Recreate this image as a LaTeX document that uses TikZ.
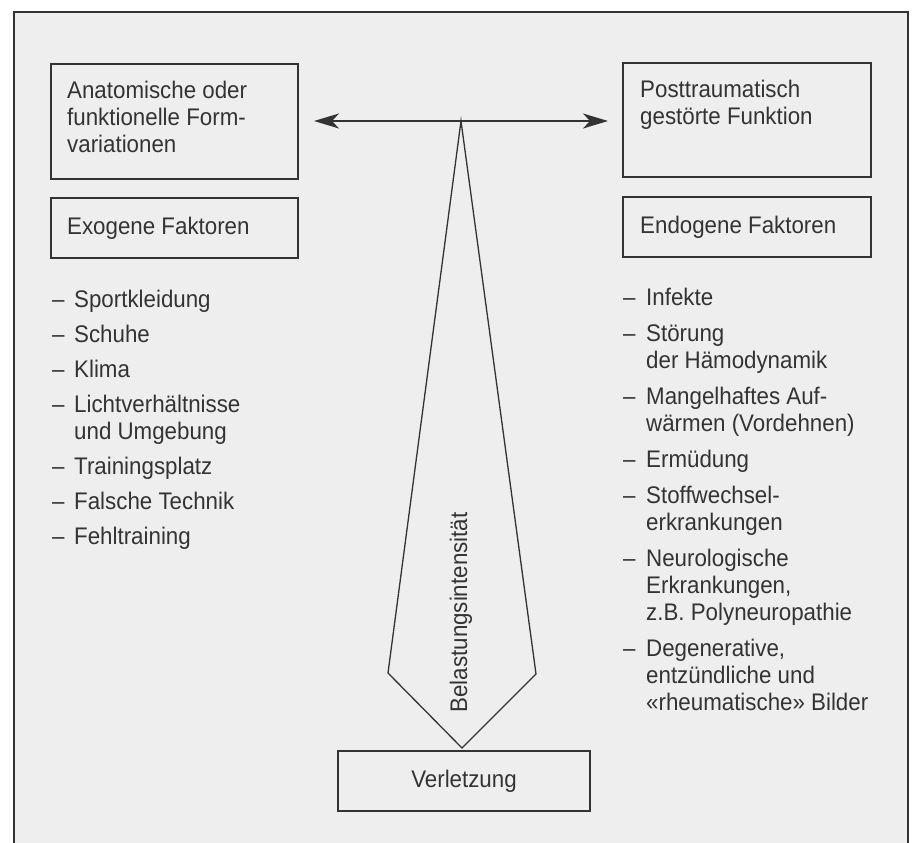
\documentclass[tikz,border=0pt]{standalone}
\usepackage{fontspec}
\setmainfont{Liberation Sans}[FakeStretch=0.93]
\usetikzlibrary{arrows.meta}
\definecolor{ink}{HTML}{333333}
\definecolor{bg}{HTML}{EEEEEE}
\tikzset{
  box/.style={draw=ink, line width=1.3pt, minimum width=247pt, inner sep=0pt},
  txt/.style={text=ink, font=\fontsize{24}{27}\selectfont, inner sep=0pt},
  tipstyle/.style={ink, line width=1.5pt, {Stealth[length=25pt,width=15pt,inset=7pt]}-{Stealth[length=25pt,width=15pt,inset=7pt]}},
}
\begin{document}
\begin{tikzpicture}[x=1pt,y=-1pt]
\useasboundingbox (0,0) rectangle (916,843);
\fill[white] (0,0) rectangle (916,843);
\fill[bg] (14,12) rectangle (908,843);
\draw[ink, line width=1.5pt] (14,843) -- (14,12) -- (908,12) -- (908,843);

% boxes
\node[box, minimum height=115pt] (anat) at (174.5,121.5) {};
\node[box, minimum width=248pt, minimum height=114pt] (post) at (747,120) {};
\node[box, minimum height=60pt] (exo) at (174.5,228) {};
\node[box, minimum width=248pt, minimum height=60pt] (endo) at (747,227) {};
\node[box, txt, minimum width=252pt, minimum height=60pt] (verl) at (464,781) {Verletzung};

% box texts
\node[txt, anchor=base west] (anatT) at (67,99) {\begin{tabular}[t]{@{}l@{}}Anatomische oder\\funktionelle Form-\\variationen\end{tabular}};
\node[txt, anchor=base west] (postT) at (640,98) {\begin{tabular}[t]{@{}l@{}}Posttraumatisch\\gestörte Funktion\end{tabular}};
\node[txt, anchor=base west] (exoT) at (67,234) {Exogene Faktoren};
\node[txt, anchor=base west] (endoT) at (640,233) {Endogene Faktoren};

% lists
\node[txt, anchor=base west] (exoL) at (52,307) {\begin{tabular}[t]{@{}p{22pt}@{}l@{}}
–&Sportkleidung\\[8pt]
–&Schuhe\\[8pt]
–&Klima\\[8pt]
–&Lichtverhältnisse\\
&und Umgebung\\[8pt]
–&Trainingsplatz\\[8pt]
–&Falsche Technik\\[8pt]
–&Fehltraining
\end{tabular}};
\node[txt, anchor=base west] (endoL) at (623,305) {\begin{tabular}[t]{@{}p{23pt}@{}l@{}}
–&Infekte\\[9pt]
–&Störung\\
&der Hämodynamik\\[9pt]
–&Mangelhaftes Auf-\\
&wärmen (Vordehnen)\\[9pt]
–&Ermüdung\\[9pt]
–&Stoffwechsel-\\
&erkrankungen\\[9pt]
–&Neurologische\\
&Erkrankungen,\\
&z.B. Polyneuropathie\\[9pt]
–&Degenerative,\\
&entzündliche und\\
&«rheumatische» Bilder
\end{tabular}};

% double arrow
\coordinate (al) at (314,121);
\coordinate (ar) at (608,121);
\draw[tipstyle] (al) -- (ar);

% kite
\coordinate (apex) at (461,121);
\coordinate (kl) at (388,673);
\coordinate (kr) at (536,674);
\coordinate (tip) at (462,748);
\draw[ink, line width=1.3pt, line join=miter] (apex) -- (kl) -- (tip) -- (kr) -- cycle;

\node[txt, rotate=90, anchor=base] (bel) at (467,612.5) {Belastungsintensität};
\end{tikzpicture}
\end{document}
